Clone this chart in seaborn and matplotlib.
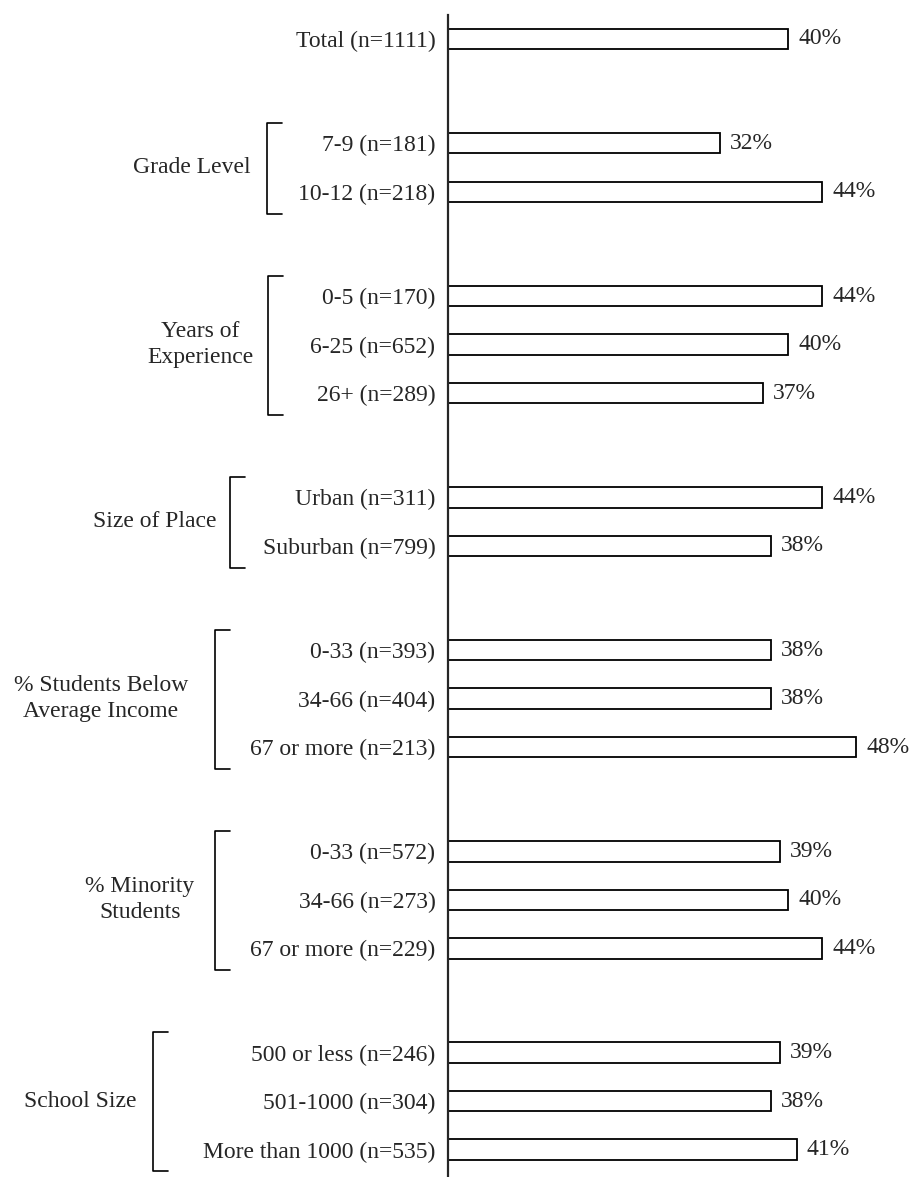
import matplotlib
matplotlib.use("Agg")
import matplotlib.pyplot as plt
import matplotlib.transforms as mtransforms
import seaborn as sns
import pandas as pd

# row labels, grouped
groups = ["", "Grade Level", "Years of\nExperience", "Size of Place",
          "% Students Below\nAverage Income", "% Minority\nStudents", "School Size"]
group_rows = [
    ["Total (n=1111)"],
    ["7-9 (n=181)", "10-12 (n=218)"],
    ["0-5 (n=170)", "6-25 (n=652)", "26+ (n=289)"],
    ["Urban (n=311)", "Suburban (n=799)"],
    ["0-33 (n=393)", "34-66 (n=404)", "67 or more (n=213)"],
    ["0-33 (n=572)", "34-66 (n=273)", "67 or more (n=229)"],
    ["500 or less (n=246)", "501-1000 (n=304)", "More than 1000 (n=535)"],
]
group_values = [
    [40],
    [32, 44],
    [44, 40, 37],
    [44, 38],
    [38, 38, 48],
    [39, 40, 44],
    [39, 38, 41],
]

# layout: one unit per row, larger gap between groups
gap = 2.15
labels, values, ypos, grp_span = [], [], [], []
y = 0.0
for gi, (rows, vals) in enumerate(zip(group_rows, group_values)):
    if gi > 0:
        y += gap - 1
    start = y
    for lab, v in zip(rows, vals):
        labels.append(lab)
        values.append(v)
        ypos.append(y)
        y += 1
    grp_span.append((start, y - 1))

df = pd.DataFrame({"label": labels, "value": values, "y": ypos})

W, H = 917, 1177
fig = plt.figure(figsize=(W / 100, H / 100), dpi=100)
sns.set_style("white")
plt.rcParams["font.family"] = ["Liberation Serif", "DejaVu Serif"]
fs = 17

px_per_row = 48.5
top_px = 39
x0_px = 448
px_per_pct = 8.5
ax = fig.add_axes([x0_px / W, 0, 1 - x0_px / W, 1])

sns.barplot(data=df, x="value", y="y", orient="h", native_scale=True,
            width=0.42, color="white", edgecolor="black", linewidth=1.3,
            errorbar=None, ax=ax)

ax.set_xlim(0, (W - x0_px) / px_per_pct)
ax.set_ylim((H - top_px) / px_per_row, -top_px / px_per_row)

for s in ["top", "right", "bottom"]:
    ax.spines[s].set_visible(False)
ax.spines["left"].set_linewidth(1.6)
ax.spines["left"].set_bounds(-0.5, (H - top_px) / px_per_row)

ax.set_yticks(ypos)
ax.set_yticklabels(labels, fontsize=fs)
ax.tick_params(axis="y", length=0, pad=9)
ax.set_xticks([])
ax.set_xlabel("")
ax.set_ylabel("")

for v, yy in zip(values, ypos):
    ax.text(v + 1.2, yy, f"{v}%", va="center", ha="left", fontsize=fs)

# group labels and brackets (x in figure pixels)
tr = mtransforms.blended_transform_factory(fig.transFigure, ax.transData)
bracket_x = [None, 267, 268, 230, 215, 215, 153]
label_x = [None, 192, 200, 155, 101, 140, 80]
tick_len = 15
for gi in range(1, len(groups)):
    y1, y2 = grp_span[gi]
    top, bot = y1 - 0.42, y2 + 0.45
    bx = bracket_x[gi] / W
    bt = (bracket_x[gi] + tick_len) / W
    ax.plot([bt, bx, bx, bt], [top, top, bot, bot], transform=tr,
            color="black", lw=1.2, clip_on=False)
    ax.text(label_x[gi] / W, (y1 + y2) / 2, groups[gi], transform=tr,
            ha="center", va="center", fontsize=fs, linespacing=1.3)

fig.savefig("out.png", dpi=100)
